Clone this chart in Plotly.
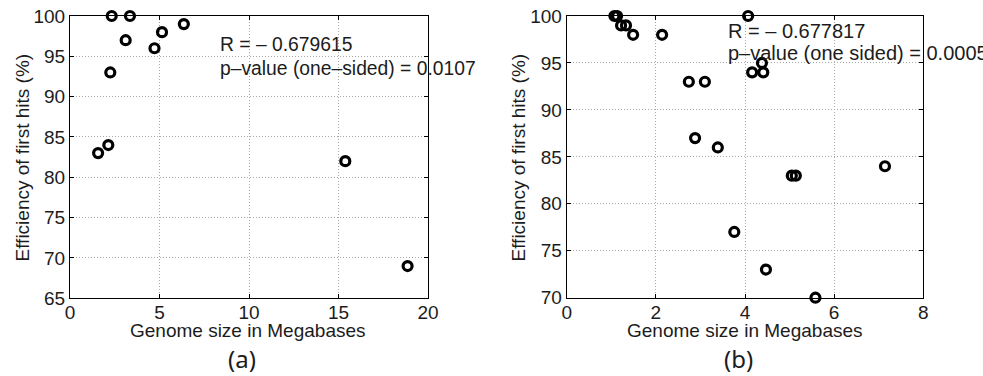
import plotly.graph_objects as go

W, H = 983, 376

# ---- data ----
a_genome = [2.33, 3.35, 3.11, 2.25, 4.72, 5.14, 6.36, 1.57, 2.14, 15.38, 18.86]
a_eff = [100, 100, 97, 93, 96, 98, 99, 83, 84, 82, 69]

b_genome = [1.07, 1.13, 1.22, 1.33, 1.49, 2.14, 4.07, 2.74, 3.10, 4.16, 4.41, 4.38,
            2.88, 3.39, 5.05, 5.14, 7.14, 3.76, 4.47, 5.58]
b_eff = [100, 100, 99, 99, 98, 98, 100, 93, 93, 94, 94, 95,
         87, 86, 83, 83, 84, 77, 73, 70]

a_xticks = [0, 5, 10, 15, 20]
a_yticks = [65, 70, 75, 80, 85, 90, 95, 100]
b_xticks = [0, 2, 4, 6, 8]
b_yticks = [70, 75, 80, 85, 90, 95, 100]

x_title = "Genome size in Megabases"
y_title = "Efficiency of first hits (%)"
a_stats = ["R = \u2013 0.679615", "p\u2013value (one\u2013sided) = 0.0107"]
b_stats = ["R = \u2013 0.677817", "p\u2013value (one sided) = 0.0005"]


def px(x):
    return x / W


def py(y):
    return 1 - y / H


FONT = "Liberation Sans, Arial, sans-serif"
TXT = "#1c1c1c"
FS = 19

fig = go.Figure()
marker = dict(symbol="circle-open", size=9, color="black", line=dict(width=3.2, color="black"))
fig.add_trace(go.Scatter(x=a_genome, y=a_eff, mode="markers", marker=marker,
                         xaxis="x", yaxis="y", cliponaxis=False, showlegend=False))
fig.add_trace(go.Scatter(x=b_genome, y=b_eff, mode="markers", marker=marker,
                         xaxis="x2", yaxis="y2", cliponaxis=False, showlegend=False))

axis_common = dict(
    showline=True, linecolor="black", linewidth=1, mirror="ticks",
    ticks="inside", ticklen=4, tickcolor="black",
    showgrid=True, gridcolor="#a8a8a8", griddash="1px,2px", gridwidth=1,
    zeroline=False, tickfont=dict(family=FONT, size=FS, color=TXT),
    fixedrange=True, automargin=False,
)

fig.update_layout(
    template="none",
    width=W, height=H,
    margin=dict(l=0, r=0, t=0, b=0, pad=0),
    paper_bgcolor="white", plot_bgcolor="white",
    xaxis=dict(axis_common, domain=[px(70), px(428)], range=[0, 20], tickvals=a_xticks,
               anchor="y", ticklabelstandoff=-3),
    yaxis=dict(axis_common, domain=[py(298.3), py(16)], range=[65, 100], tickvals=a_yticks,
               anchor="x"),
    xaxis2=dict(axis_common, domain=[px(566.7), px(923.3)], range=[0, 8], tickvals=b_xticks,
                anchor="y2", ticklabelstandoff=-3),
    yaxis2=dict(axis_common, domain=[py(297.7), py(16)], range=[70, 100], tickvals=b_yticks,
                anchor="x2"),
)

ann = []


def add_text(text, x, y, xanchor="center", yanchor="middle", size=FS, angle=0, family=FONT):
    ann.append(dict(text=text, x=px(x), y=py(y), xref="paper", yref="paper",
                    xanchor=xanchor, yanchor=yanchor, showarrow=False, textangle=angle,
                    borderpad=0, font=dict(family=family, size=size, color=TXT)))


# axis titles
add_text(x_title, 248, 330)
add_text(x_title, 745, 330)
add_text(y_title, 22, 157.5, angle=-90)
add_text(y_title, 518, 157.5, angle=-90)

# stats text
add_text(a_stats[0], 219, 45, xanchor="left", size=19.3)
add_text(a_stats[1], 219, 68, xanchor="left", size=19.3)
add_text(b_stats[0], 727, 30.7, xanchor="left", size=20)
add_text(b_stats[1], 727, 53.3, xanchor="left", size=20)

# panel labels
add_text("(a)", 242, 358, size=24, family="Noto Sans, DejaVu Sans, sans-serif")
add_text("(b)", 738, 358, size=24, family="Noto Sans, DejaVu Sans, sans-serif")

fig.update_layout(annotations=ann)
fig.write_html(
    "out.html",
    config={"displayModeBar": False, "staticPlot": True},
    post_script="document.body.style.margin='0';document.body.style.overflow='hidden';",
)
